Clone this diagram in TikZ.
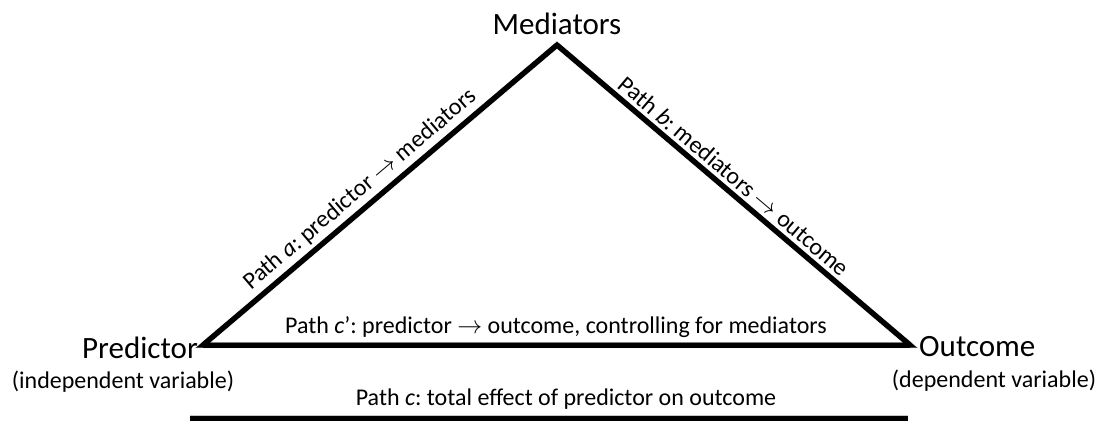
\documentclass[tikz,border=0pt]{standalone}
\usepackage{fontspec}
\setmainfont{Carlito}
\frenchspacing
\newcommand{\rarr}{\ensuremath{\rightarrow}}
\begin{document}
\begin{tikzpicture}[x=1pt,y=-1pt,
  edge/.style={line width=5pt, line join=miter, black},
  shadowedge/.style={line width=6pt, line join=miter, black!22, xshift=1.2pt, yshift=-1.8pt},
  vname/.style={font=\fontsize{31}{36}\selectfont, inner sep=0pt},
  vsub/.style={font=\fontsize{24}{28}\selectfont, inner sep=0pt},
  plabel/.style={font=\fontsize{24}{28}\selectfont, inner sep=0pt},
  slabel/.style={font=\fontsize{24}{28}\selectfont, inner sep=4pt, sloped, above, pos=0.475}]
\useasboundingbox (0,0) rectangle (1102,421);
% vertices
\coordinate (A) at (203,345);
\coordinate (B) at (557,45);
\coordinate (C) at (910,345);
\coordinate (L) at (190,418);
\coordinate (R) at (908,418);
% shadows
\draw[shadowedge] (A) -- (B) -- (C) -- cycle;
\draw[shadowedge] (L) -- (R);
% triangle
\draw[edge] (A) -- (B) node[slabel] {Path {\itshape a}: predictor \rarr{} mediators};
\draw[edge] (B) -- (C) node[slabel] {Path {\itshape b}: mediators \rarr{} outcome};
\draw[edge] (C) -- (A);
\draw[edge] (A) -- (B) -- (C) -- cycle;
\draw[edge] (L) -- (R);
% vertex labels
\node[vname, anchor=base] (med) at (557,34) {Mediators};
\node[vname, anchor=base east] (pred) at (198,358) {Predictor};
\node[vname, anchor=base west] (out) at (919,356) {Outcome};
\node[vsub, anchor=base] (predsub) at (123,388) {(independent variable)};
\node[vsub, anchor=base] (outsub) at (994,387) {(dependent variable)};
% path labels
\node[plabel, anchor=base] (cp) at (556,333) {Path {\itshape c}’: predictor \rarr{} outcome, controlling for mediators};
\node[plabel, anchor=base] (c) at (566,405) {Path {\itshape c}: total effect of predictor on outcome};
\end{tikzpicture}
\end{document}
